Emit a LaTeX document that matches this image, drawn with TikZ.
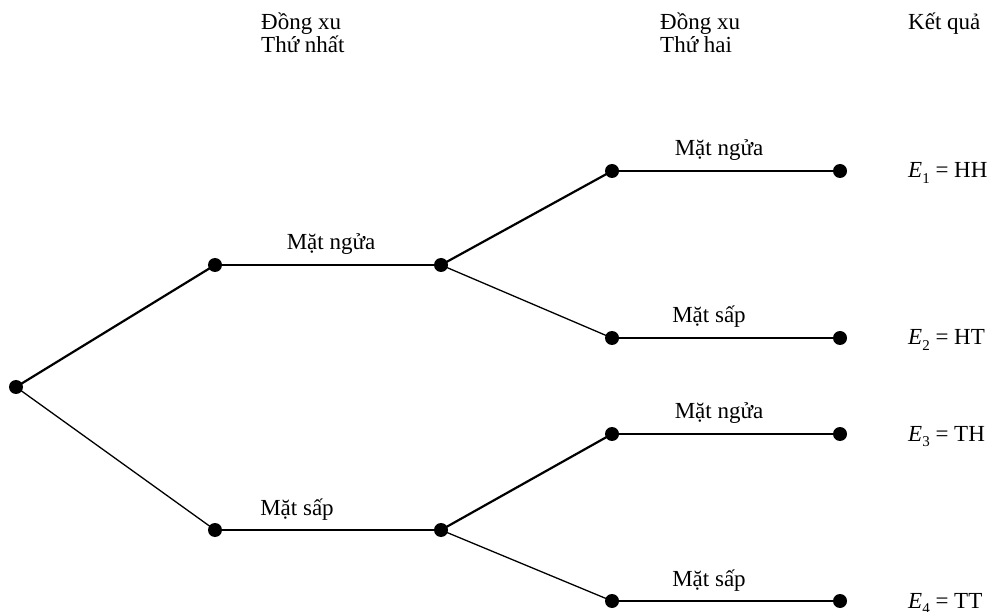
\documentclass[tikz,border=0pt]{standalone}
\usepackage{fontspec}
\setmainfont{Liberation Serif}
\newcommand{\Esub}[1]{\textit{E}\raisebox{-0.22em}{\fontsize{15}{15}\selectfont #1}}
\begin{document}
\begin{tikzpicture}[x=1pt,y=-1pt,
  dot/.style={circle,fill=black,inner sep=0pt,minimum size=14pt},
  thk/.style={line width=2.2pt},
  thn/.style={line width=1.3pt},
  lbl/.style={font=\fontsize{23}{23}\selectfont,inner sep=0pt,anchor=base},
  hdr/.style={font=\fontsize{23}{23}\selectfont,inner sep=0pt,align=left,anchor=base west},
  res/.style={font=\fontsize{23}{23}\selectfont,inner sep=0pt,anchor=base west}]
\useasboundingbox (0,0) rectangle (1002,612);
\node[dot] (r) at (16,387) {};
\node[dot] (a1) at (215,265) {};
\node[dot] (a2) at (441,265) {};
\node[dot] (b1) at (215,530) {};
\node[dot] (b2) at (441,530) {};
\node[dot] (c1) at (612,171) {};
\node[dot] (c2) at (840,171) {};
\node[dot] (d1) at (612,338) {};
\node[dot] (d2) at (840,338) {};
\node[dot] (e1) at (612,434) {};
\node[dot] (e2) at (840,434) {};
\node[dot] (f1) at (612,601) {};
\node[dot] (f2) at (840,601) {};
\draw[thk] (r.center) -- (a1.center);
\draw[thn] (r.center) -- (b1.center);
\draw[thk] (a1.center) -- (a2.center);
\draw[thk] (b1.center) -- (b2.center);
\draw[thk] (a2.center) -- (c1.center);
\draw[thn] (a2.center) -- (d1.center);
\draw[thk] (b2.center) -- (e1.center);
\draw[thn] (b2.center) -- (f1.center);
\draw[thk] (c1.center) -- (c2.center);
\draw[thk] (d1.center) -- (d2.center);
\draw[thk] (e1.center) -- (e2.center);
\draw[thk] (f1.center) -- (f2.center);
\node[lbl] (l1) at (331,250) {Mặt ngửa};
\node[lbl] (l2) at (297,515) {Mặt sấp};
\node[lbl] (l3) at (719,156) {Mặt ngửa};
\node[lbl] (l4) at (709,323) {Mặt sấp};
\node[lbl] (l5) at (719,419) {Mặt ngửa};
\node[lbl] (l6) at (709,586) {Mặt sấp};
\node[hdr] (h1) at (261,53) {Đồng xu\\Thứ nhất};
\node[hdr] (h2) at (660,53) {Đồng xu\\Thứ hai};
\node[hdr] (h3) at (908,30) {Kết quả};
\node[res] (E1) at (908,178) {\Esub{1} = HH};
\node[res] (E2) at (908,345) {\Esub{2} = HT};
\node[res] (E3) at (908,441) {\Esub{3} = TH};
\node[res] (E4) at (908,608) {\Esub{4} = TT};
\end{tikzpicture}
\end{document}
